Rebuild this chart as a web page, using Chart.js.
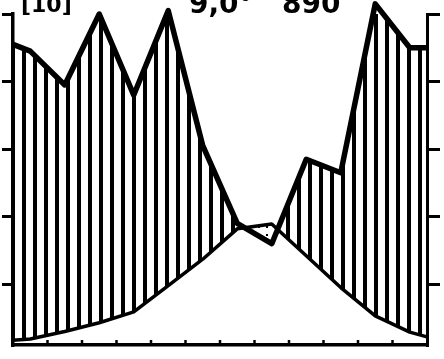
<!DOCTYPE html>
<html>
<head>
<meta charset="utf-8">
<script src="https://cdn.jsdelivr.net/npm/chart.js@4.4.1/dist/chart.umd.min.js"></script>
<style>
  body { margin: 0; background: #fff; }
  #wrap { position: relative; width: 444px; height: 359px; overflow: hidden; }
  .lbl { position: absolute; font-family: "DejaVu Sans", sans-serif; font-weight: bold; line-height: 1; color: #000; white-space: pre; }
</style>
</head>
<body>
<div id="wrap">
  <canvas id="klima" width="444" height="359"></canvas>
  <div class="lbl" style="left:21px; top:-6px; font-size:22px;">[10]</div>
  <div class="lbl" style="left:189px; top:-10px; font-size:28px;">9,0°</div>
  <div class="lbl" style="left:282px; top:-10px; font-size:28px;">890</div>
</div>
<script>
// Monate (nur für die Anzahl der Striche unten)
const monate = ['Jan', 'Feb', 'Mär', 'Apr', 'Mai', 'Jun', 'Jul', 'Aug', 'Sep', 'Okt', 'Nov', 'Dez'];
// Monatsmittel Temperatur in °C
const temperatur = [1.9, 3.0, 4.3, 5.9, 9.8, 13.7, 18.2, 18.9, 14.2, 9.5, 5.3, 2.9];
// Monatssummen Niederschlag in mm
const niederschlag = [89, 79, 100, 76, 101, 61, 38, 32, 57, 53, 103, 90];
// Werte am linken und rechten Rand (Jahresanfang / Jahresende)
const randTemperatur = [1.7, 2.2];
const randNiederschlag = [91, 90];
// Achsenstriche
const tempTicks = [10, 20, 30, 40, 50];
const nsTicks = [20, 40, 60, 80, 100];

function punkte(werte, rand) {
    const p = [{ x: 0, y: rand[0] }];
    werte.forEach((v, i) => p.push({ x: i + 0.5, y: v }));
    p.push({ x: monate.length, y: rand[1] });
    return p;
}

// Senkrechte Schraffur für die humide Zeit
const schraffur = (() => {
    const c = document.createElement('canvas');
    c.width = 11; c.height = 11;
    const g = c.getContext('2d');
    g.fillStyle = '#000';
    g.fillRect(0, 0, 4, 11);
    return g.createPattern(c, 'repeat');
})();

// Punkte für die aride Zeit
const punktiert = (() => {
    const c = document.createElement('canvas');
    c.width = 8; c.height = 8;
    const g = c.getContext('2d');
    g.fillStyle = '#fff';
    g.fillRect(0, 0, 8, 8);
    g.fillStyle = '#000';
    g.fillRect(2, 2, 2, 2);
    return g.createPattern(c, 'repeat');
})();

// kleine Striche an den Monatsgrenzen, nach innen
const monatsStriche = {
    id: 'monatsStriche',
    afterDraw(chart) {
        const { ctx, chartArea, scales } = chart;
        ctx.save();
        ctx.strokeStyle = '#000';
        ctx.lineWidth = 2.5;
        for (let m = 1; m < monate.length; m++) {
            const px = scales.x.getPixelForValue(m);
            ctx.beginPath();
            ctx.moveTo(px, chartArea.bottom);
            ctx.lineTo(px, chartArea.bottom - 5);
            ctx.stroke();
        }
        ctx.restore();
    }
};

const ctx = document.getElementById('klima').getContext('2d');
new Chart(ctx, {
    type: 'line',
    data: {
        datasets: [{
            label: 'Temperatur',
            data: punkte(temperatur, randTemperatur),
            yAxisID: 'yT',
            borderColor: '#000',
            borderWidth: 3.5,
            borderJoinStyle: 'round',
            pointRadius: 0,
            tension: 0,
            fill: false,
            clip: false
        }, {
            label: 'Niederschlag',
            data: punkte(niederschlag, randNiederschlag),
            yAxisID: 'yN',
            borderColor: '#000',
            borderWidth: 5.5,
            borderJoinStyle: 'round',
            pointRadius: 0,
            tension: 0,
            fill: { target: 0, above: schraffur, below: punktiert },
            clip: false
        }]
    },
    options: {
        responsive: false,
        animation: false,
        layout: { padding: { left: 2, right: 4, top: 14, bottom: 6 } },
        plugins: {
            legend: { display: false },
            tooltip: { enabled: false }
        },
        scales: {
            x: {
                type: 'linear', min: 0, max: monate.length,
                ticks: { display: false },
                grid: { display: false },
                border: { color: '#000', width: 3.5 }
            },
            yT: {
                position: 'left', min: 1, max: 50,
                afterBuildTicks: s => { s.ticks = tempTicks.map(v => ({ value: v })); },
                ticks: { display: false },
                grid: { drawOnChartArea: false, tickLength: 11, color: '#000', lineWidth: 3 },
                border: { color: '#000', width: 3.5 }
            },
            yN: {
                position: 'right', min: 2, max: 100,
                afterBuildTicks: s => { s.ticks = nsTicks.map(v => ({ value: v })); },
                ticks: { display: false },
                grid: { drawOnChartArea: false, tickLength: 13, color: '#000', lineWidth: 3 },
                border: { color: '#000', width: 3 }
            }
        }
    },
    plugins: [monatsStriche]
});
</script>
</body>
</html>
